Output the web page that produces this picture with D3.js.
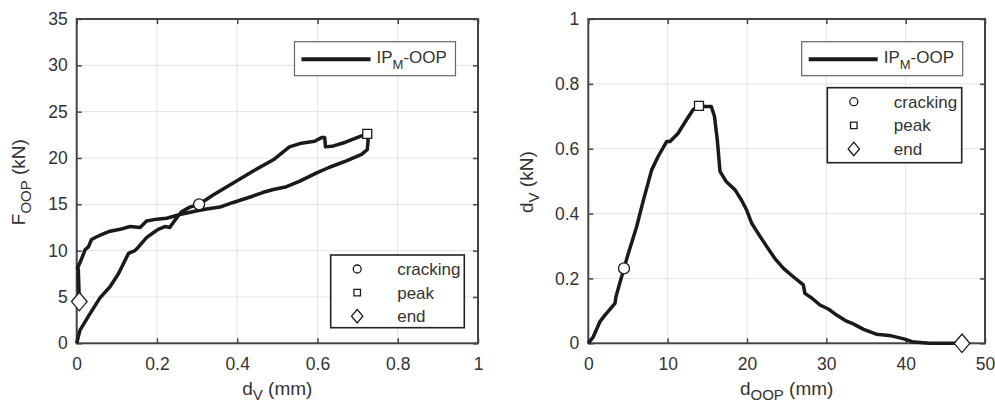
<!DOCTYPE html>
<html>
<head>
<meta charset="utf-8">
<script src="https://cdn.jsdelivr.net/npm/d3@7"></script>
<style>
  body { margin: 0; background: #fff; }
  svg text { font-family: "Liberation Sans", Arial, sans-serif; fill: #333; }
</style>
</head>
<body>
<div id="chart"></div>
<script>
// left panel: d_V (mm) vs F_OOP (kN)
var leftX = [0, 0.008, 0.029, 0.058, 0.083, 0.104, 0.129, 0.145, 0.154, 0.174, 0.19, 0.203, 0.22, 0.232, 0.245, 0.261, 0.282, 0.305,
  0.34, 0.39, 0.44, 0.49, 0.53, 0.56, 0.593, 0.61, 0.618, 0.62, 0.64, 0.67, 0.705, 0.724,
  0.726, 0.724, 0.71, 0.672, 0.63, 0.598, 0.556, 0.523, 0.49, 0.465, 0.44, 0.39, 0.357, 0.324, 0.3, 0.257, 0.224, 0.2, 0.174, 0.158,
  0.133, 0.108, 0.083, 0.066, 0.05, 0.037, 0.029, 0.021, 0.012, 0.002, 0.004, 0.0065];
var leftY = [0, 1.4, 2.9, 4.9, 6.1, 7.5, 9.7, 10, 10.4, 11.4, 11.9, 12.3, 12.6, 12.5, 13.3, 14.2, 14.7, 15.0,
  16.0, 17.3, 18.6, 19.8, 21.2, 21.6, 21.8, 22.2, 22.2, 21.2, 21.3, 21.7, 22.3, 22.6,
  21.8, 20.9, 20.4, 19.7, 19.0, 18.4, 17.5, 16.9, 16.6, 16.3, 15.9, 15.2, 14.7, 14.5, 14.3, 13.9, 13.5, 13.4, 13.2, 12.5,
  12.6, 12.3, 12.1, 11.8, 11.5, 11.2, 10.4, 10.1, 9.1, 8.1, 8.0, 4.5];
var leftMarks = [
  {name: "cracking", x: 0.305, y: 15.0},
  {name: "peak", x: 0.724, y: 22.6},
  {name: "end", x: 0.0065, y: 4.5}
];

// right panel: d_OOP (mm) vs d_V
var rightX = [0, 0.63, 1.47, 2.1, 3.36, 3.49, 3.9, 4.5, 5.04, 6.1, 6.93, 7.98, 8.8, 9.87, 10.3, 11.3, 12.4, 13.2, 13.95,
  14.7, 15.5, 15.9, 16.26, 16.6, 17.4, 18.5, 19.3, 19.96, 20.6, 21.4, 22.5, 23.5, 24.6, 25.8, 27.1, 27.3, 28.2, 29.2,
  30.3, 31.3, 32.4, 33.4, 34.7, 36.3, 38.2, 39.9, 40.8, 42.2, 43.1, 47.1];
var rightY = [0, 0.02, 0.067, 0.087, 0.123, 0.144, 0.18, 0.231, 0.277, 0.36, 0.44, 0.534, 0.576, 0.622, 0.622, 0.647, 0.69, 0.72, 0.732,
  0.73, 0.73, 0.70, 0.627, 0.53, 0.498, 0.473, 0.442, 0.411, 0.37, 0.339, 0.298, 0.262, 0.231, 0.206, 0.18, 0.154, 0.139, 0.118,
  0.105, 0.087, 0.07, 0.06, 0.043, 0.028, 0.023, 0.013, 0.005, 0.002, 0, 0];
var rightMarks = [
  {name: "cracking", x: 4.5, y: 0.231},
  {name: "peak", x: 13.95, y: 0.732},
  {name: "end", x: 47.1, y: 0}
];

var leftXTicks = [0, 0.2, 0.4, 0.6, 0.8, 1];
var leftYTicks = [0, 5, 10, 15, 20, 25, 30, 35];
var rightXTicks = [0, 10, 20, 30, 40, 50];
var rightYTicks = [0, 0.2, 0.4, 0.6, 0.8, 1];

var seriesName = ["IP", "M", "-OOP"];
var markerNames = ["cracking", "peak", "end"];

var svg = d3.select("#chart").append("svg")
  .attr("width", 995)
  .attr("height", 405);

var lineColor = "#1a1a1a";

function markerPath(name, size) {
  if (name === "cracking") return d3.symbol().type(d3.symbolCircle).size(size)();
  if (name === "peak") return d3.symbol().type(d3.symbolSquare).size(size * 0.85)();
  var w = Math.sqrt(size) * 0.8, h = Math.sqrt(size) * 0.95;
  return "M0," + (-h) + "L" + w + ",0L0," + h + "L" + (-w) + ",0Z";
}

function drawPanel(opt) {
  var x = d3.scaleLinear().domain(opt.xDomain).range([opt.left, opt.right]);
  var y = d3.scaleLinear().domain(opt.yDomain).range([opt.bottom, opt.top]);
  var g = svg.append("g");

  // grid
  g.selectAll(".gx").data(opt.xTicks).enter().append("line")
    .attr("x1", d => x(d)).attr("x2", d => x(d))
    .attr("y1", opt.top).attr("y2", opt.bottom)
    .attr("stroke", "#e3e3e3").attr("stroke-width", 1);
  g.selectAll(".gy").data(opt.yTicks).enter().append("line")
    .attr("y1", d => y(d)).attr("y2", d => y(d))
    .attr("x1", opt.left).attr("x2", opt.right)
    .attr("stroke", "#e3e3e3").attr("stroke-width", 1);

  // axes with inward ticks
  var fmt = d3.format("~g");
  var bottom = g.append("g").attr("transform", "translate(0," + opt.bottom + ")")
    .call(d3.axisBottom(x).tickValues(opt.xTicks).tickFormat(fmt).tickSizeInner(-5).tickSizeOuter(0).tickPadding(14));
  var leftAx = g.append("g").attr("transform", "translate(" + opt.left + ",0)")
    .call(d3.axisLeft(y).tickValues(opt.yTicks).tickFormat(fmt).tickSizeInner(-5).tickSizeOuter(0).tickPadding(9));
  var topAx = g.append("g").attr("transform", "translate(0," + opt.top + ")")
    .call(d3.axisTop(x).tickValues(opt.xTicks).tickFormat("").tickSizeInner(-5).tickSizeOuter(0));
  var rightAx = g.append("g").attr("transform", "translate(" + opt.right + ",0)")
    .call(d3.axisRight(y).tickValues(opt.yTicks).tickFormat("").tickSizeInner(-5).tickSizeOuter(0));
  [bottom, leftAx, topAx, rightAx].forEach(function(a) {
    a.select(".domain").remove();
    a.selectAll("line").attr("stroke", "#444").attr("stroke-width", 1.5);
    a.selectAll("text").style("font-size", "17.5px").attr("fill", "#333");
  });

  g.append("rect")
    .attr("x", opt.left).attr("y", opt.top)
    .attr("width", opt.right - opt.left).attr("height", opt.bottom - opt.top)
    .attr("fill", "none").attr("stroke", "#444").attr("stroke-width", 2);

  // data line
  var pts = opt.xs.map((v, i) => [v, opt.ys[i]]);
  var line = d3.line().x(d => x(d[0])).y(d => y(d[1]));
  g.append("path").datum(pts).attr("d", line)
    .attr("fill", "none").attr("stroke", lineColor)
    .attr("stroke-width", 3.5).attr("stroke-linejoin", "round");

  // markers
  g.selectAll(".mk").data(opt.marks).enter().append("path")
    .attr("transform", d => "translate(" + x(d.x) + "," + y(d.y) + ")")
    .attr("d", d => markerPath(d.name, 95))
    .attr("fill", "#fff").attr("stroke", lineColor).attr("stroke-width", 1.3);

  // axis labels
  var xl = g.append("text").attr("x", (opt.left + opt.right) / 2).attr("y", 395)
    .attr("text-anchor", "middle").style("font-size", "19px");
  xl.append("tspan").text(opt.xLabel[0]);
  xl.append("tspan").attr("dy", 5).style("font-size", "15px").text(opt.xLabel[1]);
  xl.append("tspan").attr("dy", -5).text(opt.xLabel[2]);

  var yl = g.append("text")
    .attr("transform", "translate(" + opt.yLabelX + "," + ((opt.top + opt.bottom) / 2 + 1) + ") rotate(-90)")
    .attr("text-anchor", "middle").style("font-size", "19px");
  yl.append("tspan").text(opt.yLabel[0]);
  yl.append("tspan").attr("dy", 6).style("font-size", "15px").text(opt.yLabel[1]);
  yl.append("tspan").attr("dy", -6).text(opt.yLabel[2]);

  // legend: line
  var l1 = opt.leg1;
  g.append("rect").attr("x", l1.x).attr("y", l1.y).attr("width", l1.w).attr("height", l1.h)
    .attr("fill", "#fff").attr("stroke", "#666").attr("stroke-width", 1.2);
  g.append("line").attr("x1", l1.x + 7).attr("x2", l1.x + 76)
    .attr("y1", l1.y + 17.5).attr("y2", l1.y + 17.5)
    .attr("stroke", lineColor).attr("stroke-width", 4);
  var lt = g.append("text").attr("x", l1.x + 82).attr("y", l1.y + 21).style("font-size", "17px").attr("fill", "#222");
  lt.append("tspan").text(seriesName[0]);
  lt.append("tspan").attr("dy", 6).style("font-size", "13px").text(seriesName[1]);
  lt.append("tspan").attr("dy", -6).text(seriesName[2]);

  // legend: markers
  var l2 = opt.leg2;
  g.append("rect").attr("x", l2.x).attr("y", l2.y).attr("width", l2.w).attr("height", l2.h)
    .attr("fill", "#fff").attr("stroke", "#222").attr("stroke-width", 1.6);
  markerNames.forEach(function(n, i) {
    var cy = l2.y + 14 + i * 23.6;
    g.append("path").attr("transform", "translate(" + (l2.x + 26.5) + "," + cy + ")")
      .attr("d", markerPath(n, 50))
      .attr("fill", "#fff").attr("stroke", lineColor).attr("stroke-width", 1.3);
    g.append("text").attr("x", l2.x + 66.5).attr("y", cy + 6)
      .style("font-size", "17px").attr("fill", "#222").text(n);
  });
}

drawPanel({
  left: 76.7, right: 478, top: 19, bottom: 343.3,
  xDomain: [0, 1], yDomain: [0, 35],
  xTicks: leftXTicks, yTicks: leftYTicks,
  xs: leftX, ys: leftY, marks: leftMarks,
  xLabel: ["d", "V", " (mm)"], yLabel: ["F", "OOP", " (kN)"], yLabelX: 25,
  leg1: {x: 294.5, y: 41.7, w: 161, h: 34},
  leg2: {x: 330.7, y: 255, w: 133.6, h: 72.7}
});

drawPanel({
  left: 588.3, right: 985, top: 19, bottom: 343.3,
  xDomain: [0, 50], yDomain: [0, 1],
  xTicks: rightXTicks, yTicks: rightYTicks,
  xs: rightX, ys: rightY, marks: rightMarks,
  xLabel: ["d", "OOP", " (mm)"], yLabel: ["d", "V", " (kN)"], yLabelX: 533,
  leg1: {x: 801.7, y: 41.7, w: 161, h: 34},
  leg2: {x: 827.3, y: 87.7, w: 134.4, h: 75}
});
</script>
</body>
</html>
